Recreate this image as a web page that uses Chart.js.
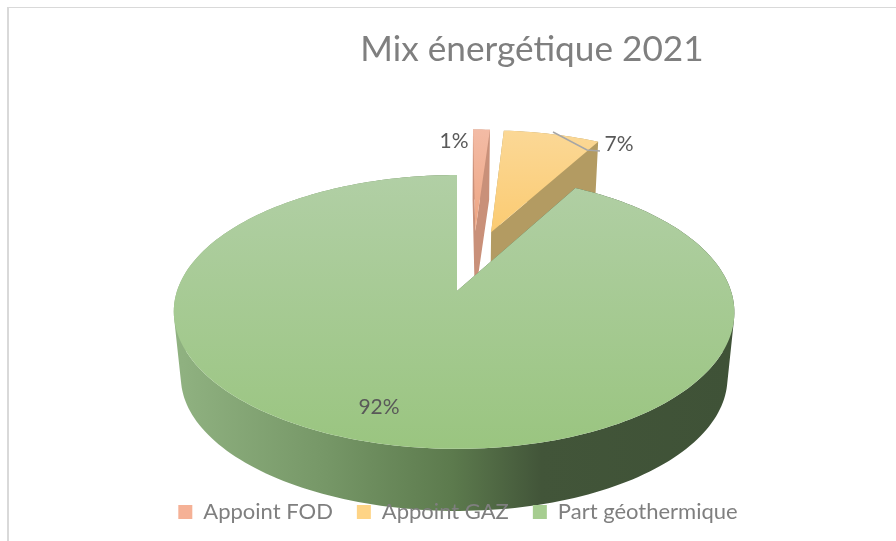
<!DOCTYPE html>
<html>
<head>
<meta charset="utf-8">
<style>
  html, body { margin: 0; padding: 0; background: #fff; overflow: hidden; }
  #frame { position: absolute; left: 7px; top: 7px; right: 0; bottom: 0; border-top: 1px solid #d9d9d9; border-left: 2px solid #d9d9d9; }
  canvas { position: absolute; left: 0; top: 0; }
</style>
<script src="https://cdn.jsdelivr.net/npm/chart.js@4"></script>
</head>
<body>
<div id="frame"></div>
<canvas id="chart" width="896" height="541"></canvas>
<script>
const categories = ['Appoint FOD', 'Appoint GAZ', 'Part géothermique'];
const shares = [1.2, 6.9, 91.9];
const chartTitle = 'Mix énergétique 2021';

const legendColors = ['#f5b196', '#fed486', '#a6cd90'];
const topColors = [['#f3bba5', '#eea582'], ['#fbd896', '#fbcb72'], ['#b1cfa5', '#9ac580']];
const wallColors = ['#c99079', '#b39b62', null];
const labelSpots = [[454, 141], [619, 144], [379, 407]];

// the look of the 3D pie, fitted on the picture
const view = {
    x: 457, y: 291,      // apex of the green slice
    rx: 277, ry: 133.7,  // radius on screen
    persp: 0.153,
    skew: 3,
    explode: 0.245,
    depth: 66,
    baseScale: 0.975,
    centerU: 0.0617, centerV: 0.237
};

function project(u, v, low) {
    const w = 1 + view.persp * v;
    let x = view.x + view.rx * u / w - view.skew * u * u;
    let y = view.y - view.ry * v / w;
    if (low) {
        x = view.x + (x - view.x) * view.baseScale;
        y = view.y + view.depth + (y - view.y) * view.baseScale;
    }
    return [x, y];
}

function arcPoints(arc, low) {
    const mid = (arc.startAngle + arc.endAngle) / 2;
    const ou = view.centerU + view.explode * Math.cos(mid);
    const ov = view.centerV - view.explode * Math.sin(mid);
    const rim = [];
    const steps = Math.max(4, Math.ceil((arc.endAngle - arc.startAngle) * 40));
    for (let i = 0; i <= steps; i++) {
        const a = arc.startAngle + (arc.endAngle - arc.startAngle) * i / steps;
        rim.push(project(ou + Math.cos(a), ov - Math.sin(a), low));
    }
    return { apex: project(ou, ov, low), rim };
}

function tracePoly(ctx, pts) {
    // same winding for every polygon, so that one fill gives their union
    let area = 0;
    pts.forEach((p, i) => {
        const q = pts[(i + 1) % pts.length];
        area += p[0] * q[1] - q[0] * p[1];
    });
    const list = area < 0 ? pts.slice().reverse() : pts;
    list.forEach((p, i) => i ? ctx.lineTo(p[0], p[1]) : ctx.moveTo(p[0], p[1]));
    ctx.closePath();
}

const pie3d = {
    id: 'pie3d',
    afterLayout(chart) {
        // title and legend are not centred on the canvas in the picture
        chart.titleBlock.left += 84;
        chart.titleBlock.right += 84;
        chart.legend.left += 10;
        chart.legend.right += 10;
    },
    beforeDraw(chart) {
        const ctx = chart.ctx;
        const arcs = chart.getDatasetMeta(0).data;

        arcs.forEach((arc, i) => {
            const top = arcPoints(arc, false);
            const low = arcPoints(arc, true);
            const last = top.rim.length - 1;

            let wall = wallColors[i];
            if (!wall) {
                wall = ctx.createLinearGradient(176, 0, 730, 0);
                wall.addColorStop(0, '#90b281');
                wall.addColorStop(0.27, '#769767');
                wall.addColorStop(0.5, '#5c7a4d');
                wall.addColorStop(0.66, '#425539');
                wall.addColorStop(1, '#3f5237');
            }
            ctx.beginPath();
            for (let s = 0; s < last; s++) {
                tracePoly(ctx, [top.rim[s], top.rim[s + 1], low.rim[s + 1], low.rim[s]]);
            }
            tracePoly(ctx, [top.apex, top.rim[0], low.rim[0], low.apex]);
            tracePoly(ctx, [top.apex, top.rim[last], low.rim[last], low.apex]);
            ctx.fillStyle = wall;
            ctx.fill();

            const ys = top.rim.map(p => p[1]).concat(top.apex[1]);
            const face = ctx.createLinearGradient(0, Math.min(...ys), 0, Math.max(...ys));
            face.addColorStop(0, topColors[i][0]);
            face.addColorStop(1, topColors[i][1]);
            ctx.beginPath();
            tracePoly(ctx, [top.apex].concat(top.rim));
            ctx.fillStyle = face;
            ctx.fill();
        });

        // leader line of the 7% label
        ctx.beginPath();
        ctx.moveTo(553, 132);
        ctx.lineTo(587, 150);
        ctx.lineTo(600, 151);
        ctx.strokeStyle = '#a6a6a6';
        ctx.lineWidth = 1.5;
        ctx.stroke();

        ctx.font = '21px Lato';
        ctx.fillStyle = '#595959';
        ctx.textAlign = 'center';
        ctx.textBaseline = 'middle';
        shares.forEach((v, i) => ctx.fillText(Math.round(v) + '%', labelSpots[i][0], labelSpots[i][1]));
    },
    beforeDatasetsDraw() {
        return false; // the slices are already painted above
    }
};

new Chart(document.getElementById('chart'), {
    type: 'pie',
    data: {
        labels: categories,
        datasets: [{ data: shares, backgroundColor: legendColors, borderWidth: 0 }]
    },
    options: {
        responsive: false,
        animation: false,
        layout: { padding: { bottom: 8 } },
        plugins: {
            title: {
                display: true,
                text: chartTitle,
                color: '#7f7f7f',
                font: { family: 'Lato', size: 35.2, weight: 'normal' },
                padding: { top: 29, bottom: 10 }
            },
            legend: {
                position: 'bottom',
                labels: {
                    color: '#7f7f7f',
                    font: { family: 'Lato', size: 22 },
                    boxWidth: 14,
                    boxHeight: 14,
                    padding: 24
                }
            },
            tooltip: { enabled: false }
        }
    },
    plugins: [pie3d]
});
</script>
</body>
</html>
